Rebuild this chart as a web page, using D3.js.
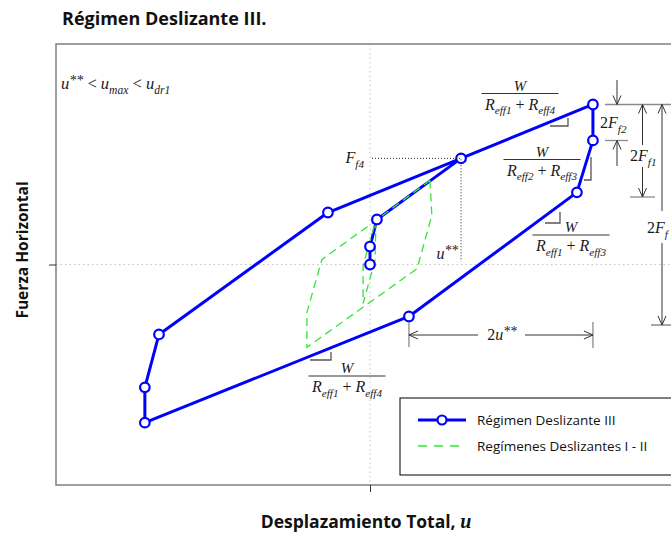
<!DOCTYPE html>
<html>
<head>
<meta charset="utf-8">
<script src="https://cdn.jsdelivr.net/npm/d3@7"></script>
<style>
  body { margin: 0; background: #fff; }
  svg { display: block; }
</style>
</head>
<body>
<svg id="chart" width="671" height="536"></svg>
<script>
// ---- Data (displacement u, horizontal force F, in plot units) ----
// Régimen Deslizante III hysteresis loop (vertices, in drawing order)
const loopIII_u = [0.00, 0.00, 0.22, 2.90, 7.10, 7.10, 6.59, 1.24, -7.17, -7.17, -6.72, -1.34, 2.90];
const loopIII_F = [0.00, 0.57, 1.43, 3.37, 5.08, 3.94, 2.29, -1.65, -5.02, -3.90, -2.22, 1.65, 3.37];
// Regímenes Deslizantes I - II: outer and inner loops
const loopI_II_outer_u = [1.91, 1.97, 1.50, -2.01, -2.01, -1.53, 0.19, 1.91];
const loopI_II_outer_F = [2.67, 1.56, -0.13, -2.63, -1.52, 0.16, 1.40, 2.67];
const loopI_II_inner_u = [0.19, 0.16, -0.22, -0.22, 0.19];
const loopI_II_inner_F = [1.40, 0.13, -1.24, -0.03, 1.40];
// Axis ticks (origin only)
const xTicks = [0];
const yTicks = [0];
const legendLabels = ["Régimen Deslizante III", "Regímenes Deslizantes I - II"];

// ---- Setup ----
const svg = d3.select("#chart");
const plot = { left: 56, right: 684, top: 44, bottom: 485 };
const x = d3.scaleLinear().domain([-10, 10]).range([plot.left, plot.right]);
const y = d3.scaleLinear().domain([-7, 7]).range([plot.bottom, plot.top]);

const BLUE = "#0000ff";
const GREEN = "#33e633";
const SERIF = "'Liberation Serif','Times New Roman',serif";
const SANS = "'Open Sans', Lato, sans-serif";

const toPts = (us, fs) => us.map((u, i) => [u, fs[i]]);
const line = d3.line().x(d => x(d[0])).y(d => y(d[1]));

// ---- Title ----
svg.append("text").attr("x", 62).attr("y", 25)
  .attr("font-family", SANS).attr("font-weight", 700).attr("font-size", 18)
  .attr("fill", "#111").text("Régimen Deslizante III.");

// ---- Grid (dotted through origin) ----
svg.append("line")
  .attr("x1", x(0)).attr("x2", x(0)).attr("y1", plot.top).attr("y2", plot.bottom)
  .attr("stroke", "#c4c4c4").attr("stroke-width", 1).attr("stroke-dasharray", "1.5,3");
svg.append("line")
  .attr("x1", plot.left).attr("x2", plot.right).attr("y1", y(0)).attr("y2", y(0))
  .attr("stroke", "#c4c4c4").attr("stroke-width", 1).attr("stroke-dasharray", "1.5,3");

// ---- Frame and axes ----
svg.append("rect")
  .attr("x", plot.left).attr("y", plot.top)
  .attr("width", plot.right - plot.left).attr("height", plot.bottom - plot.top)
  .attr("fill", "none").attr("stroke", "#808080").attr("stroke-width", 1.5);

const xAxis = svg.append("g").attr("transform", `translate(0,${plot.bottom})`)
  .call(d3.axisBottom(x).tickValues(xTicks).tickFormat("").tickSize(7));
const yAxis = svg.append("g").attr("transform", `translate(${plot.left},0)`)
  .call(d3.axisLeft(y).tickValues(yTicks).tickFormat("").tickSize(7));
[xAxis, yAxis].forEach(a => {
  a.select(".domain").remove();
  a.selectAll(".tick line").attr("stroke", "#333").attr("stroke-width", 1);
});

// Axis titles
svg.append("text").attr("transform", "translate(28,250) rotate(-90)")
  .attr("text-anchor", "middle")
  .attr("font-family", SANS).attr("font-weight", 700).attr("font-size", 15.5)
  .attr("fill", "#111").text("Fuerza Horizontal");
const xt = svg.append("text").attr("x", 366).attr("y", 528).attr("text-anchor", "middle")
  .attr("font-family", SANS).attr("font-weight", 700).attr("font-size", 17.5).attr("fill", "#111");
xt.append("tspan").text("Desplazamiento Total, ");
xt.append("tspan").attr("font-family", SERIF).attr("font-style", "italic").attr("font-size", 20).text("u");

// ---- Loops ----
const ptsIII = toPts(loopIII_u, loopIII_F);
svg.append("path").attr("d", line(ptsIII))
  .attr("fill", "none").attr("stroke", BLUE).attr("stroke-width", 3)
  .attr("stroke-linejoin", "round");

[toPts(loopI_II_outer_u, loopI_II_outer_F), toPts(loopI_II_inner_u, loopI_II_inner_F)].forEach(p => {
  svg.append("path").attr("d", line(p))
    .attr("fill", "none").attr("stroke", GREEN).attr("stroke-width", 1.3)
    .attr("stroke-dasharray", "8,5");
});

// markers (last vertex repeats an earlier one)
svg.selectAll("circle.m").data(ptsIII.slice(0, ptsIII.length - 1)).enter()
  .append("circle").attr("class", "m")
  .attr("cx", d => x(d[0])).attr("cy", d => y(d[1])).attr("r", 4.8)
  .attr("fill", "#fff").attr("stroke", BLUE).attr("stroke-width", 2.2);

// ---- Math annotations ----
function mathText(x0, y0, parts, opts = {}) {
  const size = opts.size || 15;
  const t = svg.append("text").attr("x", x0).attr("y", y0)
    .attr("font-family", SERIF).attr("font-size", size).attr("fill", "#1a1a1a")
    .attr("text-anchor", opts.anchor || "start");
  let shift = 0;
  parts.forEach(([s, kind]) => {
    const ts = t.append("tspan").text(s);
    let target = 0, fs = size, italic = true;
    if (kind === "sub") { target = size * 0.3; fs = size * 0.7; }
    else if (kind === "sup") { target = -size * 0.25; fs = size * 0.85; }
    else if (kind === "n") { italic = false; }
    ts.attr("dy", target - shift).attr("font-size", fs)
      .attr("font-style", italic ? "italic" : "normal");
    shift = target;
  });
  return t;
}

function fraction(cx, barY, sub1, sub2) {
  svg.append("line").attr("x1", cx - 38.5).attr("x2", cx + 38.5)
    .attr("y1", barY).attr("y2", barY).attr("stroke", "#333").attr("stroke-width", 1);
  mathText(cx, barY - 3, [["W", "i"]], { anchor: "middle", size: 15 });
  mathText(cx, barY + 16, [["R", "i"], ["eff" + sub1, "sub"], [" + ", "n"], ["R", "i"], ["eff" + sub2, "sub"]],
    { anchor: "middle", size: 16 });
}

// slope markers (right-angle ticks under each branch)
function slopeMark(x1, x2, yb, yTop) {
  svg.append("path").attr("d", `M${x1},${yb} L${x2},${yb} L${x2},${yTop}`)
    .attr("fill", "none").attr("stroke", "#555").attr("stroke-width", 1.3);
}

mathText(61, 89, [["u", "i"], ["**", "sup"], [" < ", "n"], ["u", "i"], ["max", "sub"], [" < ", "n"], ["u", "i"], ["dr1", "sub"]], { size: 16.5 });

fraction(520, 93.5, "1", "4");
slopeMark(550, 568, 126, 118);
fraction(542, 159.5, "2", "3");
slopeMark(584, 591, 180, 157);
fraction(571, 235, "1", "3");
slopeMark(545, 560, 223, 212);
fraction(347, 376, "1", "4");
slopeMark(310, 331, 360, 352);

// F_f4 and u** reference lines from the peak of the inner branch
const pk = ptsIII[3];
svg.append("path")
  .attr("d", `M${x(0) + 2},${y(pk[1])} L${x(pk[0])},${y(pk[1])} L${x(pk[0])},${y(0) - 3}`)
  .attr("fill", "none").attr("stroke", "#222").attr("stroke-width", 1).attr("stroke-dasharray", "1,2");
mathText(364, 163, [["F", "i"], ["f4", "sub"]], { anchor: "end", size: 16 });
mathText(458, 259, [["u", "i"], ["**", "sup"]], { anchor: "end", size: 16 });

// ---- Dimension lines ----
const DIM = "#333", EXT = "#8a8a8a";
function seg(x1, y1, x2, y2, c = DIM, w = 1) {
  svg.append("line").attr("x1", x1).attr("y1", y1).attr("x2", x2).attr("y2", y2)
    .attr("stroke", c).attr("stroke-width", w);
}
function head(xt, yt, dir) {
  const L = 9, H = 4;
  let d;
  if (dir === "up") d = `M${xt - H},${yt + L} L${xt},${yt} L${xt + H},${yt + L}`;
  else if (dir === "down") d = `M${xt - H},${yt - L} L${xt},${yt} L${xt + H},${yt - L}`;
  else if (dir === "left") d = `M${xt + L},${yt - H} L${xt},${yt} L${xt + L},${yt + H}`;
  else d = `M${xt - L},${yt - H} L${xt},${yt} L${xt - L},${yt + H}`;
  svg.append("path").attr("d", d).attr("fill", "none").attr("stroke", DIM).attr("stroke-width", 1);
}

// 2u** span
const uL = x(ptsIII[7][0]), uR = x(ptsIII[4][0]);
seg(uL, 322, uL, 347, EXT, 1.3);
seg(uR, 322, uR, 348, EXT, 1.3);
seg(uL, 335, 478, 335); seg(525, 335, uR, 335);
head(uL, 335, "left"); head(uR, 335, "right");
mathText(502, 340, [["2", "n"], ["u", "i"], ["**", "sup"]], { anchor: "middle", size: 16 });

// force spans on the right
const yTopPk = y(ptsIII[4][1]);
seg(605, yTopPk, 690, yTopPk, EXT, 1.3);
seg(605, 140.5, 628, 140.5, EXT, 1.3);
seg(630, 197, 655, 197, EXT, 1.3);
seg(651, 325, 690, 325, EXT, 1.3);

// 2F_f2
seg(617, 80, 617, yTopPk); head(617, yTopPk, "down");
seg(617, 166, 617, 140.5); head(617, 140.5, "up");
mathText(600, 128, [["2", "n"], ["F", "i"], ["f2", "sub"]], { size: 16 });
// 2F_f1
seg(642.5, yTopPk, 642.5, 145); head(642.5, yTopPk, "up");
seg(642.5, 167, 642.5, 197); head(642.5, 197, "down");
mathText(630, 161, [["2", "n"], ["F", "i"], ["f1", "sub"]], { size: 16 });
// 2F_f
seg(662, yTopPk, 662, 211); head(662, yTopPk, "up");
seg(662, 243, 662, 325); head(662, 325, "down");
mathText(647, 233, [["2", "n"], ["F", "i"], ["f", "sub"]], { size: 16 });

// ---- Legend ----
const lg = svg.append("g");
lg.append("rect").attr("x", 400).attr("y", 398).attr("width", 300).attr("height", 77)
  .attr("fill", "#fff").attr("stroke", "#000").attr("stroke-width", 1);
const rows = [420, 446];
lg.append("line").attr("x1", 418).attr("x2", 466).attr("y1", rows[0]).attr("y2", rows[0])
  .attr("stroke", BLUE).attr("stroke-width", 3);
lg.append("circle").attr("cx", 442).attr("cy", rows[0]).attr("r", 4.5)
  .attr("fill", "#fff").attr("stroke", BLUE).attr("stroke-width", 2.2);
lg.append("line").attr("x1", 418).attr("x2", 466).attr("y1", rows[1]).attr("y2", rows[1])
  .attr("stroke", GREEN).attr("stroke-width", 1.3).attr("stroke-dasharray", "9,7");
legendLabels.forEach((s, i) => {
  lg.append("text").attr("x", 477).attr("y", rows[i] + 4.5)
    .attr("font-family", SANS).attr("font-size", 13.5).attr("fill", "#111").text(s);
});
</script>
</body>
</html>
